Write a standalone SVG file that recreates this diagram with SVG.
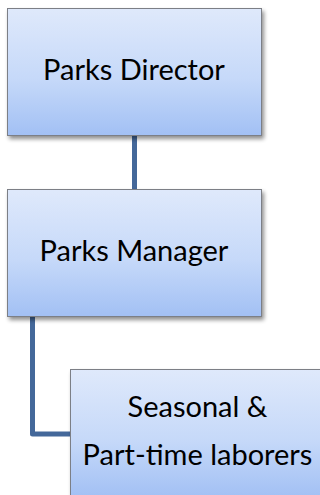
<svg xmlns="http://www.w3.org/2000/svg" width="320" height="495" viewBox="0 0 320 495">
  <defs>
    <linearGradient id="boxFill" x1="0" y1="0" x2="0" y2="1">
      <stop offset="0" stop-color="#dfe9fb"/>
      <stop offset="0.55" stop-color="#c6d9f9"/>
      <stop offset="1" stop-color="#a2c0f4"/>
    </linearGradient>
    <filter id="shadow" x="-10%" y="-10%" width="125%" height="130%">
      <feGaussianBlur in="SourceAlpha" stdDeviation="2"/>
      <feOffset dx="1.5" dy="2.5" result="blur"/>
      <feComponentTransfer><feFuncA type="linear" slope="0.45"/></feComponentTransfer>
      <feMerge><feMergeNode/><feMergeNode in="SourceGraphic"/></feMerge>
    </filter>
  </defs>
  <style>
    .box { fill: url(#boxFill); stroke: #7b7f86; stroke-width: 1; filter: url(#shadow); }
    .label { font-family: "Lato", "Liberation Sans", sans-serif; font-size: 29px; fill: #000; text-anchor: middle; }
    .link { fill: none; stroke: #44689a; stroke-width: 5; stroke-linejoin: round; }
  </style>

  <!-- reporting lines -->
  <g id="connectors">
    <path class="link" d="M134.5 135 V189"/>
    <path class="link" d="M32.5 317 V434 H70"/>
  </g>

  <g id="parks-director">
    <rect class="box" x="7.5" y="8.5" width="254" height="127"/>
    <text class="label" x="134" y="80">Parks Director</text>
  </g>

  <g id="parks-manager">
    <rect class="box" x="7.5" y="189.5" width="254" height="127"/>
    <text class="label" x="134" y="261">Parks Manager</text>
  </g>

  <g id="seasonal-laborers">
    <rect class="box" x="70.5" y="369.5" width="254" height="128"/>
    <text class="label" x="197.5" y="417">Seasonal &amp;</text>
    <text class="label" x="197.5" y="465">Part-time laborers</text>
  </g>
</svg>
